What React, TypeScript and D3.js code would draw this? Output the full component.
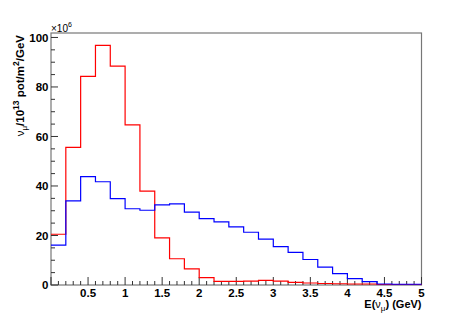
import React from 'react';
import * as d3 from 'd3';

// bin low edges in GeV (0.2 GeV bins)
const binEdges = [
  0, 0.2, 0.4, 0.6, 0.8, 1.0, 1.2, 1.4, 1.6, 1.8, 2.0, 2.2, 2.4,
  2.6, 2.8, 3.0, 3.2, 3.4, 3.6, 3.8, 4.0, 4.2, 4.4, 4.6, 4.8,
];
const xMax = 5;

// flux values (x10^6)
const redFlux = [
  20.5, 55.6, 84.3, 96.8, 88.4, 64.7, 37.9, 19.0, 10.6, 6.5, 3.0, 1.5, 1.5,
  1.6, 1.9, 1.6, 1.1, 0.8, 0.6, 0.5, 0.4, 0.4, 0.2, 0.2, 0.2,
];
const blueFlux = [
  16.1, 34.0, 43.8, 41.7, 34.9, 30.8, 30.2, 32.4, 32.8, 29.4, 26.8, 25.5, 23.5,
  21.3, 18.5, 15.5, 13.2, 10.3, 7.2, 4.6, 2.6, 1.4, 0.4, 0.3, 0.3,
];

const xTickLabels = ['0.5', '1', '1.5', '2', '2.5', '3', '3.5', '4', '4.5', '5'];
const yTickValues = [0, 20, 40, 60, 80, 100];

const W = 473;
const H = 320;
const margin = { top: 33, right: 51.5, bottom: 35, left: 51 };
const font = '"Liberation Sans", Arial, Helvetica, sans-serif';

export default function App() {
  const x = d3.scaleLinear().domain([0, xMax]).range([margin.left, W - margin.right]);
  const y = d3.scaleLinear().domain([0, 101.8]).range([H - margin.bottom, margin.top]);

  const line = d3
    .line<[number, number]>()
    .x((d) => x(d[0]))
    .y((d) => y(d[1]))
    .curve(d3.curveStepAfter);

  const histPath = (vals: number[]) => {
    const pts: [number, number][] = binEdges.map((e, i) => [e, vals[i]]);
    pts.push([xMax, vals[vals.length - 1]]);
    return line(pts) || '';
  };

  const x0 = x.range()[0];
  const x1 = x.range()[1];
  const yb = y(0);
  const yt = y.range()[1];

  const xMinor = d3.range(0, 51).map((i) => i / 10);
  const yMinor = d3.range(0, 21).map((i) => i * 5);

  return (
    <svg
      width={W}
      height={H}
      style={{ position: 'absolute', left: 0, top: 0, background: '#fff' }}
      fontFamily={font}
    >
      {/* frame */}
      <rect x={x0} y={yt} width={x1 - x0} height={yb - yt} fill="none" stroke="#777" strokeWidth={1.2} />

      {/* x ticks */}
      {xMinor.map((v) => {
        const major = Math.abs(v * 2 - Math.round(v * 2)) < 1e-6;
        return (
          <line
            key={'xm' + v}
            x1={x(v)}
            x2={x(v)}
            y1={yb}
            y2={yb - (major ? 8 : 4)}
            stroke="#333"
            strokeWidth={1}
          />
        );
      })}
      {xTickLabels.map((t) => (
        <text
          key={'xl' + t}
          x={x(+t)}
          y={296.5}
          textAnchor="middle"
          fontSize={11.5}
          fontWeight="bold"
          fill="#000"
        >
          {t}
        </text>
      ))}

      {/* y ticks */}
      {yMinor.map((v) => (
        <line
          key={'ym' + v}
          x1={x0}
          x2={x0 + (v % 20 === 0 ? 7 : 4)}
          y1={y(v)}
          y2={y(v)}
          stroke="#333"
          strokeWidth={1}
        />
      ))}
      {yTickValues.map((v) => (
        <text
          key={'yl' + v}
          x={48.5}
          y={y(v)}
          dy="0.36em"
          textAnchor="end"
          fontSize={11.5}
          fontWeight="bold"
          fill="#000"
        >
          {v}
        </text>
      ))}

      {/* exponent */}
      <text x={x0} y={32} fontSize={10} fill="#000">
        ×10
        <tspan dy={-5} fontSize={7}>6</tspan>
      </text>

      {/* histograms */}
      <path d={histPath(redFlux)} fill="none" stroke="#ff0000" strokeWidth={1.2} />
      <path d={histPath(blueFlux)} fill="none" stroke="#0000ff" strokeWidth={1.2} />

      {/* axis titles */}
      <text x={x1} y={307.5} textAnchor="end" fontSize={11} fontWeight="bold" fill="#000">
        E(
        <tspan fontWeight="normal">ν</tspan>
        <tspan dy={3} fontSize={8} fontWeight="normal">μ</tspan>
        <tspan dy={-3}>) (GeV)</tspan>
      </text>

      <text
        transform={`translate(24,${yt + 2}) rotate(-90)`}
        textAnchor="end"
        fontSize={11.5}
        fontWeight="bold"
        fill="#000"
      >
        <tspan fontWeight="normal">ν</tspan>
        <tspan dy={3} fontSize={8} fontWeight="normal">μ</tspan>
        <tspan dy={-3}>/10</tspan>
        <tspan dy={-5} fontSize={8.5}>13</tspan>
        <tspan dy={5}> pot/m</tspan>
        <tspan dy={-5} fontSize={8.5}>2</tspan>
        <tspan dy={5}>/GeV</tspan>
      </text>
    </svg>
  );
}
